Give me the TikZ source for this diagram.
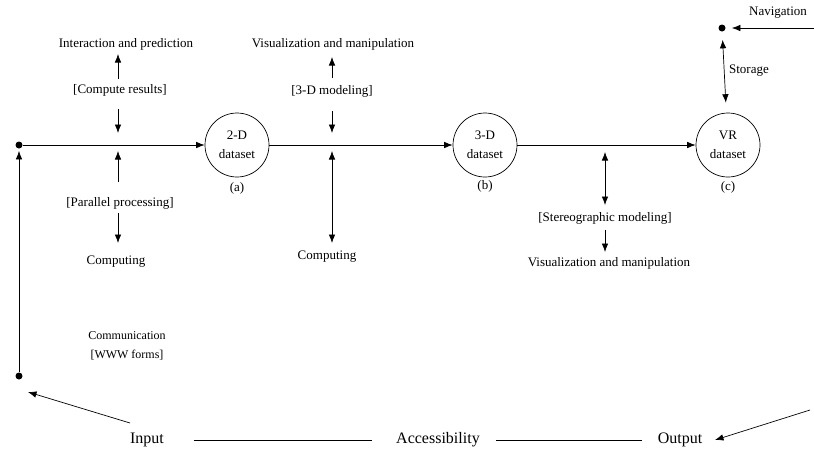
\documentclass[tikz,border=0pt]{standalone}
\usepackage{fontspec}
\setmainfont{Liberation Serif}
\usetikzlibrary{arrows.meta}
\tikzset{every picture/.style={line width=0.7pt}}

\begin{document}
\begin{tikzpicture}[x=1pt,y=1pt,yscale=-1,xscale=1,
  lbl/.style={inner sep=0.75pt,font=\fontsize{13}{15}\selectfont},
  big/.style={inner sep=0.75pt,font=\fontsize{16}{18}\selectfont},
  small/.style={inner sep=0.75pt,align=center,font=\fontsize{12}{19}\selectfont},
  dset/.style={circle,draw,minimum size=64pt,inner sep=0pt,align=center,font=\fontsize{13}{19}\selectfont},
  dot/.style={circle,fill,inner sep=0pt,minimum size=7pt},
  tip/.style={-{Latex[length=8.5pt,width=6.5pt]}},
  tips/.style={{Latex[length=8.5pt,width=6.5pt]}-{Latex[length=8.5pt,width=6.5pt]}}]
\useasboundingbox (0,0) rectangle (814,451);

%Datasets
\node [dset] (c2d) at (237,145) {2-D\\dataset};
\node [dset] (c3d) at (485,145) {3-D\\dataset};
\node [dset] (cvr) at (728,145) {VR\\dataset};
\node [lbl] (la) at (237,188) {(a)};
\node [lbl] (lb) at (485,186) {(b)};
\node [lbl] (lc) at (728,187) {(c)};

%Dots
\node [dot] (d0) at (19,145) {};
\node [dot] (d1) at (19,376) {};
\node [dot] (d2) at (722,28) {};

%Main line
\draw [tip] (d0) -- (c2d);
\draw [tip] (c2d) -- (c3d);
\draw [tip] (c3d) -- (cvr);
\draw [tip,shorten >=2pt] (d1) -- (d0);

% Text Node
\node [lbl] (ip) at (126,44) {Interaction and prediction};
\node [lbl] (cr) at (120,90) {[Compute results]};
\node [lbl] (pp) at (120,203) {[Parallel processing]};
\node [lbl] (cp1) at (116,262) {Computing};
\node [small] (cm) at (127,346) {Communication\\{}[WWW forms]};
% Text Node
\node [lbl] (vm1) at (333,44) {Visualization and manipulation};
\node [lbl] (md3) at (332,91) {[3-D modeling]};
\node [lbl] (cp2) at (327,257) {Computing};
% Text Node
\node [lbl] (sm) at (605,218) {[Stereographic modeling]};
\node [lbl] (vm2) at (609,263) {Visualization and manipulation};
\node [lbl] (nv) at (778,13) {Navigation};
\node [lbl,anchor=west] (st) at (728,71) {Storage};
% Text Node
\node [big] (inp) at (147,440) {Input};
\node [big] (acc) at (438,440) {Accessibility};
\node [big] (out) at (680,440) {Output};

%Arrow ends
\coordinate (p1) at (118,79);  \coordinate (p2) at (118,54);
\coordinate (p3) at (118,109); \coordinate (p4) at (118,133);
\coordinate (p5) at (118,182); \coordinate (p6) at (118,151);
\coordinate (p7) at (118,213); \coordinate (p8) at (118,243);
\coordinate (q1) at (332,78);  \coordinate (q2) at (332,57);
\coordinate (q3) at (332,111); \coordinate (q4) at (332,133);
\coordinate (q5) at (332,151); \coordinate (q6) at (332,243);
\coordinate (r1) at (605,152); \coordinate (r2) at (605,205);
\coordinate (r3) at (605,230); \coordinate (r4) at (605,252);
\coordinate (n1) at (814,28);
\coordinate (i1) at (130,423); \coordinate (i2) at (28,392);
\coordinate (o1) at (810,410); \coordinate (o2) at (715,440);

%Straight Lines
\draw [tip] (p1) -- (p2);
\draw [tip] (p3) -- (p4);
\draw [tip] (p5) -- (p6);
\draw [tip] (p7) -- (p8);
\draw [tip] (q1) -- (q2);
\draw [tip] (q3) -- (q4);
\draw [tips] (q5) -- (q6);
\draw [tips] (r1) -- (r2);
\draw [tip] (r3) -- (r4);
\draw [tip,shorten >=6pt] (n1) -- (d2);
\draw [tips,shorten <=8pt,shorten >=10pt] (d2) -- (cvr);
\draw [tip] (i1) -- (i2);
\draw [tip] (o1) -- (o2);
\draw ([xshift=29pt]inp.east) -- ([xshift=-23pt]acc.west);
\draw ([xshift=15pt]acc.east) -- ([xshift=-15pt]out.west);

\end{tikzpicture}
\end{document}
